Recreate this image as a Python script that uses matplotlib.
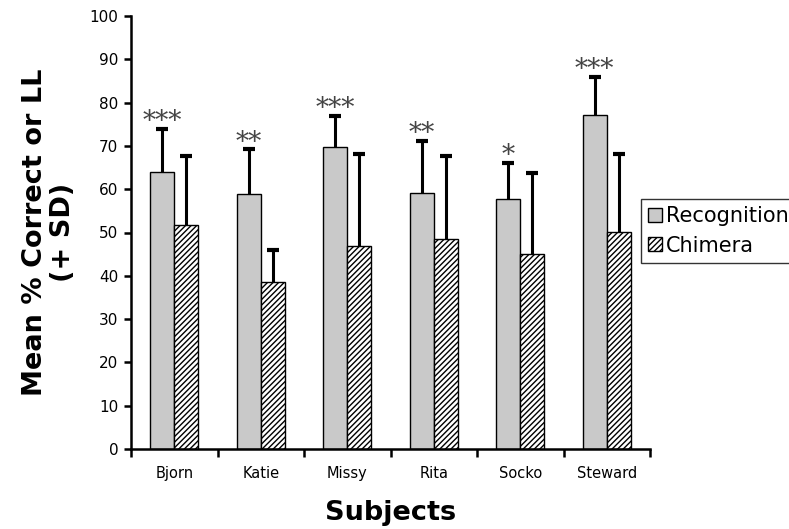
import matplotlib
matplotlib.use("Agg")
import matplotlib.pyplot as plt
import numpy as np

subjects = ["Bjorn", "Katie", "Missy", "Rita", "Socko", "Steward"]
recognition = [64.0, 59.0, 69.8, 59.2, 57.7, 77.1]
recognition_sd = [9.9, 10.2, 7.2, 12.0, 8.3, 8.8]
chimera = [51.7, 38.5, 46.8, 48.4, 45.1, 50.1]
chimera_sd = [16.0, 7.5, 21.4, 19.3, 18.7, 18.0]
stars = ["***", "**", "***", "**", "*", "***"]
yticks = [0, 10, 20, 30, 40, 50, 60, 70, 80, 90, 100]

plt.rcParams["hatch.linewidth"] = 1.0
fig = plt.figure(figsize=(7.89, 5.29), dpi=100)
ax = fig.add_axes([131/789, 80/529, 519/789, 433/529])

x = np.arange(len(subjects))
w = 0.28
ax.bar(x - w/2, recognition, w, color="#c9c9c9", edgecolor="black", linewidth=1.0,
       label="Recognition", zorder=2)
ax.bar(x + w/2, chimera, w, color="white", edgecolor="black", linewidth=1.0,
       hatch="//////", label="Chimera", zorder=2)

for xs, vals, sds in [(x - w/2, recognition, recognition_sd), (x + w/2, chimera, chimera_sd)]:
    tops = np.array(vals) + np.array(sds)
    ax.vlines(xs, vals, tops, colors="black", linewidth=2.2, zorder=3)
    ax.plot(xs, tops, linestyle="none", marker="_", markersize=9, mew=3,
            color="black", zorder=3)

for xi, r, s, st in zip(x, recognition, recognition_sd, stars):
    ax.text(xi - w/2, r + s - 1.2, st, ha="center", va="bottom", fontsize=19,
            family="DejaVu Serif", color="#444444")

ax.set_xlim(-0.5, len(subjects) - 0.5)
ax.set_ylim(0, 100)
ax.set_yticks(yticks)
ax.set_yticklabels([str(t) for t in yticks], fontsize=11)
ax.set_xticks(np.arange(-0.5, len(subjects) + 0.5, 1.0))
ax.set_xticklabels([])
ax.set_xticks(x, minor=True)
ax.set_xticklabels(subjects, minor=True, fontsize=10.5)
ax.tick_params(axis="x", which="minor", length=0, pad=12)
ax.tick_params(axis="x", which="major", direction="out", length=6, width=1.8)
ax.tick_params(axis="y", direction="out", length=5, width=1.8, pad=4)
for sp in ["top", "right"]:
    ax.spines[sp].set_visible(False)
for sp in ["left", "bottom"]:
    ax.spines[sp].set_linewidth(1.8)

ax.set_ylabel("Mean % Correct or LL\n(+ SD)", fontsize=19.5, fontweight="bold", labelpad=10,
              linespacing=1.1)
ax.set_xlabel("Subjects", fontsize=19.5, fontweight="bold", labelpad=14)

leg = fig.legend(loc="upper left", bbox_to_anchor=(641/789, 1 - 199/529), fontsize=15,
                 frameon=True, fancybox=False, edgecolor="black", handlelength=0.65,
                 handleheight=0.65, handletextpad=0.2, borderpad=0.35, labelspacing=0.45,
                 borderaxespad=0)
leg.get_frame().set_linewidth(1.0)

fig.savefig("out.png", dpi=100)
